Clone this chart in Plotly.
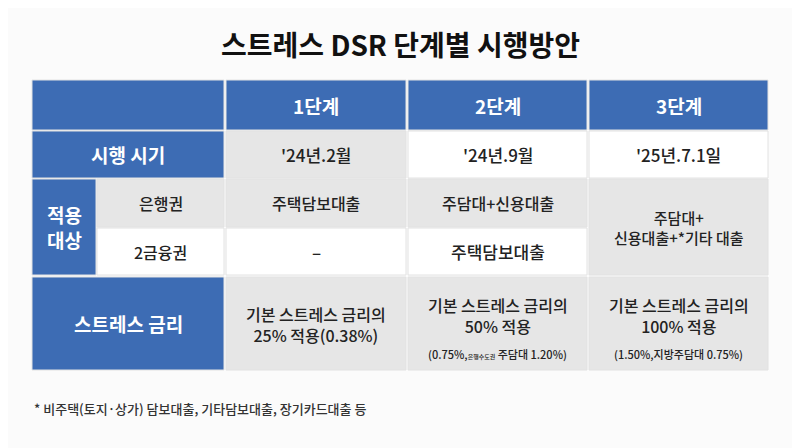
import plotly.graph_objects as go

title = "스트레스 DSR 단계별 시행방안"
stages = ["1단계", "2단계", "3단계"]
timing = ["'24년.2월", "'24년.9월", "'25년.7.1일"]
bank = ["주택담보대출", "주담대+신용대출"]
second = ["–", "주택담보대출"]
stage3_target = "주담대+<br>신용대출+*기타 대출"
stress_main = ["기본 스트레스 금리의<br>25% 적용(0.38%)", "기본 스트레스 금리의<br>50% 적용", "기본 스트레스 금리의<br>100% 적용"]
stress_sub = ["", "(0.75%,<span style='font-size:6px'>은행수도권</span> 주담대 1.20%)", "(1.50%,지방주담대 0.75%)"]
footnote = "* 비주택(토지·상가) 담보대출, 기타담보대출, 장기카드대출 등"

BLUE = "#3d6cb4"; GRAY = "#e6e6e6"; WHITE = "#ffffff"; LINE = "#e2e2e2"
FONT = "Noto Sans CJK KR"
cols = [(226, 406), (408, 587), (589, 768)]
rows = {"head": (80, 130), "time": (131, 178), "bank": (179, 227), "second": (228, 275), "stress": (277, 370)}

shapes = []; ann = []
def cell(x0, x1, y0, y1, fill, text=None, color="#222", size=15, w=500):
    shapes.append(dict(type="rect", x0=x0, x1=x1, y0=y0, y1=y1, fillcolor=fill, line=dict(color=LINE, width=1), layer="below"))
    if text is not None:
        ann.append(dict(x=(x0+x1)/2, y=(y0+y1)/2, text=text, showarrow=False,
                        font=dict(family=FONT, size=size, color=color, weight=w), xref="x", yref="y"))

cell(32, 224, *rows["head"], BLUE)
for (x0, x1), s in zip(cols, stages):
    cell(x0, x1, *rows["head"], BLUE, s, "white", 19, 700)
cell(32, 224, *rows["time"], BLUE, "시행 시기", "white", 19, 700)
for i, ((x0, x1), t) in enumerate(zip(cols, timing)):
    cell(x0, x1, *rows["time"], GRAY if i == 0 else WHITE, t, "#222", 17)
cell(32, 96, rows["bank"][0], rows["second"][1], BLUE, "적용<br>대상", "white", 19, 700)
cell(97, 224, *rows["bank"], GRAY, "은행권", "#222", 16)
cell(97, 224, *rows["second"], WHITE, "2금융권", "#222", 16)
for i in range(2):
    cell(*cols[i], *rows["bank"], GRAY, bank[i], "#222", 16)
    cell(*cols[i], *rows["second"], WHITE, second[i], "#222", 17)
cell(*cols[2], rows["bank"][0], rows["second"][1], GRAY, stage3_target, "#222", 15)
cell(32, 224, *rows["stress"], BLUE, "스트레스 금리", "white", 19, 700)
for i, (x0, x1) in enumerate(cols):
    y0, y1 = rows["stress"]
    cell(x0, x1, y0, y1, GRAY)
    ann.append(dict(x=(x0+x1)/2, y=y0 + (38 if stress_sub[i] else 47), text=stress_main[i], showarrow=False,
                    font=dict(family=FONT, size=16, color="#222", weight=500), xref="x", yref="y"))
    if stress_sub[i]:
        ann.append(dict(x=(x0+x1)/2, y=y0 + 77, text=stress_sub[i], showarrow=False,
                        font=dict(family=FONT, size=11, color="#222", weight=500), xref="x", yref="y"))

ann.append(dict(x=400, y=44, text=title, showarrow=False, font=dict(family=FONT, size=28, color="#111", weight=700), xref="x", yref="y"))
ann.append(dict(x=32, y=408, text=footnote, xanchor="left", showarrow=False, font=dict(family=FONT, size=13, color="#333", weight=500), xref="x", yref="y"))

fig = go.Figure()
fig.update_layout(width=800, height=448, margin=dict(l=0, r=0, t=0, b=0),
                  paper_bgcolor="#fbfbfb", plot_bgcolor="#fbfbfb",
                  xaxis=dict(range=[8, 808], visible=False, fixedrange=True),
                  yaxis=dict(range=[456, 8], visible=False, fixedrange=True),
                  shapes=shapes, annotations=ann, showlegend=False)
fig.write_html("out.html", config={"displayModeBar": False})
